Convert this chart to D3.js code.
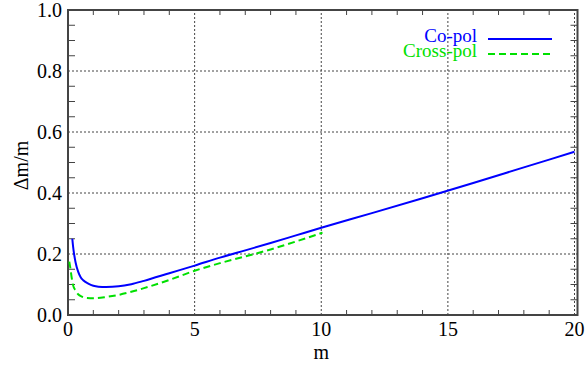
<!DOCTYPE html>
<html lang="en">
<head>
	<meta charset="UTF-8">
	<title>dm/m vs m</title>
	<style>
		body { margin: 0; background: #fff; }
		.grid line { stroke: #444; stroke-width: 1; stroke-dasharray: 2,2; }
	</style>
	<script src="https://cdn.jsdelivr.net/npm/d3@7/dist/d3.min.js"></script>
</head>
<body>
<script>
	// co-polarisation curve
	var copolM = [0.17, 0.2, 0.25, 0.3, 0.4, 0.5, 0.6, 0.8, 1.0, 1.2, 1.5, 2, 2.5, 3, 4, 5, 6, 7, 8, 9, 10, 12, 14, 16, 18, 20];
	var copolDm = [0.25, 0.225, 0.195, 0.172, 0.142, 0.124, 0.114, 0.103, 0.096, 0.093, 0.092, 0.094, 0.101, 0.112, 0.137, 0.162, 0.188, 0.212, 0.236, 0.261, 0.286, 0.334, 0.383, 0.433, 0.484, 0.535];
	// cross-polarisation curve
	var crossM = [0.05, 0.1, 0.15, 0.2, 0.3, 0.4, 0.55, 0.75, 1.0, 1.5, 2, 2.5, 3, 4, 5, 6, 7, 8, 9, 10.05];
	var crossDm = [0.175, 0.15, 0.12, 0.098, 0.08, 0.068, 0.06, 0.056, 0.055, 0.059, 0.066, 0.076, 0.088, 0.115, 0.145, 0.17, 0.192, 0.215, 0.241, 0.27];

	var xMajor = [0, 5, 10, 15, 20];
	var xMinor = d3.range(0, 21, 1);
	var yMajor = [0.0, 0.2, 0.4, 0.6, 0.8, 1.0];
	var yMinor = d3.range(0, 1.001, 0.05);
	var legendLabels = ["Co-pol", "Cross-pol"];
	var colors = ["#0000ff", "#00e000"];

	var width = 586, height = 367;
	var fs = 20;
	var x = d3.scaleLinear().domain([0, 20]).range([68, 574.5]);
	var y = d3.scaleLinear().domain([0, 1]).range([315, 10]);

	var svg = d3.select("body").append("svg")
		.attr("width", width)
		.attr("height", height)
		.attr("font-family", "'Liberation Serif', 'Times New Roman', Times, 'DejaVu Serif', serif");

	// grid
	var grid = svg.append("g").attr("class", "grid");
	grid.selectAll(".gx")
		.data(xMajor.slice(1))
		.enter().append("line")
		.attr("x1", function(d) { return x(d); })
		.attr("x2", function(d) { return x(d); })
		.attr("y1", y(0))
		.attr("y2", y(1));
	grid.selectAll(".gy")
		.data(yMajor.slice(1, -1))
		.enter().append("line")
		.attr("y1", function(d) { return y(d); })
		.attr("y2", function(d) { return y(d); })
		.attr("x1", x(0))
		.attr("x2", x(20) + 3);

	// minor ticks, inward
	var ticks = svg.append("g").attr("stroke", "#444").attr("stroke-width", 1);
	xMinor.forEach(function(d) {
		if (d % 5 === 0) return;
		ticks.append("line").attr("x1", x(d)).attr("x2", x(d)).attr("y1", y(0)).attr("y2", y(0) - 5);
		ticks.append("line").attr("x1", x(d)).attr("x2", x(d)).attr("y1", y(1)).attr("y2", y(1) + 5);
	});
	yMinor.forEach(function(d) {
		if (Math.round(d * 100) % 20 === 0) return;
		ticks.append("line").attr("y1", y(d)).attr("y2", y(d)).attr("x1", x(0)).attr("x2", x(0) + 7);
		ticks.append("line").attr("y1", y(d)).attr("y2", y(d)).attr("x1", x(20) + 3).attr("x2", x(20) - 4);
	});

	// frame
	svg.append("rect")
		.attr("x", x(0))
		.attr("y", y(1))
		.attr("width", x(20) + 3 - x(0))
		.attr("height", y(0) - y(1))
		.attr("fill", "none")
		.attr("stroke", "#444")
		.attr("stroke-width", 2);

	// tick labels
	svg.append("g").selectAll("text")
		.data(xMajor)
		.enter().append("text")
		.attr("x", function(d) { return x(d); })
		.attr("y", 336)
		.attr("text-anchor", "middle")
		.attr("font-size", fs)
		.text(function(d) { return d; });
	svg.append("g").selectAll("text")
		.data(yMajor)
		.enter().append("text")
		.attr("x", 62)
		.attr("y", function(d) { return y(d) + 6.5; })
		.attr("text-anchor", "end")
		.attr("font-size", fs)
		.text(function(d) { return d3.format(".1f")(d); });

	// axis titles
	svg.append("text")
		.attr("x", (x(0) + x(20)) / 2)
		.attr("y", 359)
		.attr("text-anchor", "middle")
		.attr("font-size", fs)
		.text("m");
	svg.append("text")
		.attr("transform", "translate(28," + ((y(0) + y(1)) / 2 + 3) + ") rotate(-90)")
		.attr("text-anchor", "middle")
		.attr("font-size", fs)
		.text("\u0394m/m");

	// curves
	var line = d3.line()
		.x(function(d) { return x(d[0]); })
		.y(function(d) { return y(d[1]); })
		.curve(d3.curveMonotoneX);

	svg.append("path")
		.datum(d3.zip(copolM, copolDm))
		.attr("fill", "none")
		.attr("stroke", colors[0])
		.attr("stroke-width", 2)
		.attr("d", line);
	svg.append("path")
		.datum(d3.zip(crossM, crossDm))
		.attr("fill", "none")
		.attr("stroke", colors[1])
		.attr("stroke-width", 2)
		.attr("stroke-dasharray", "7,4")
		.attr("d", line);

	// legend
	var legend = svg.append("g").selectAll("g")
		.data(legendLabels)
		.enter().append("g")
		.attr("transform", function(d, i) { return "translate(0," + (i * 15) + ")"; });
	legend.append("text")
		.attr("x", 477)
		.attr("y", 42)
		.attr("text-anchor", "end")
		.attr("font-size", 19)
		.attr("fill", function(d, i) { return colors[i]; })
		.text(function(d) { return d; });
	legend.append("line")
		.attr("x1", 488)
		.attr("x2", 552)
		.attr("y1", 39)
		.attr("y2", 39)
		.attr("stroke", function(d, i) { return colors[i]; })
		.attr("stroke-width", 2)
		.attr("stroke-dasharray", function(d, i) { return i ? "7,4" : null; });
</script>
</body>
</html>
